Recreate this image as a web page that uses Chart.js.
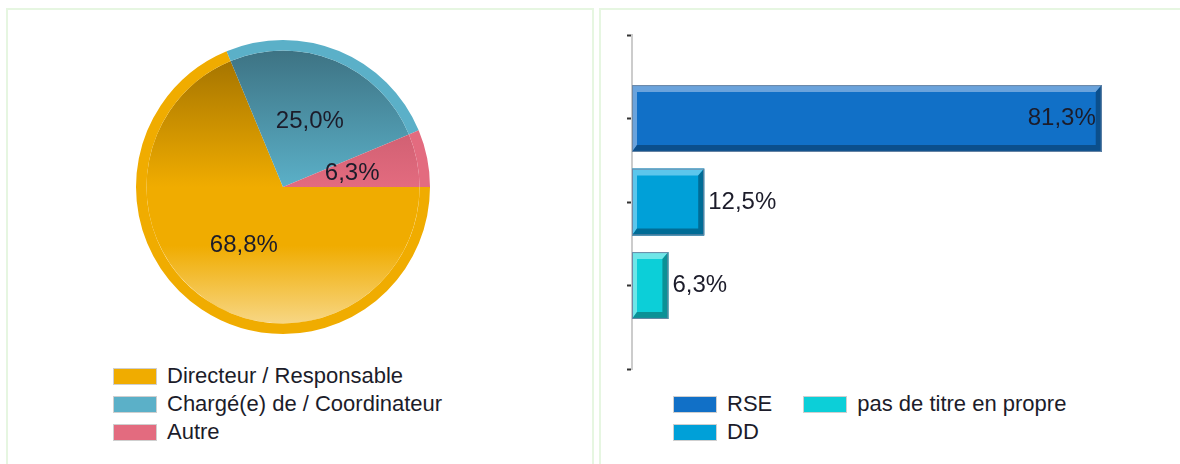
<!DOCTYPE html>
<html>
<head>
<meta charset="utf-8">
<script src="https://cdn.jsdelivr.net/npm/chart.js@4.4.0/dist/chart.umd.min.js"></script>
<style>
  body { margin: 0; width: 1180px; height: 464px; overflow: hidden; position: relative; background: #fff;
         font-family: "Liberation Sans", Arial, sans-serif; color: #1c1c2a; }
  .panel { position: absolute; top: 8px; height: 480px; border: 2px solid #e6f6e1; border-bottom: none; }
  #panelLeft { left: 6px; width: 584px; }
  #panelRight { left: 599px; width: 620px; border-right: none; }
  canvas { position: absolute; }
  #pieCanvasWrap { position: absolute; left: 8px; top: 10px; width: 582px; height: 340px; }
  #barCanvasWrap { position: absolute; left: 598px; top: 10px; width: 582px; height: 380px; }
  .legend { position: absolute; font-size: 22px; line-height: 28px; }
  .legend .item { display: flex; align-items: center; height: 28px; white-space: nowrap; }
  .legend .box { width: 42px; height: 15px; border: 1px solid #cfcfcf; margin-right: 10px; }
  #pieLegend { left: 113px; top: 362px; }
  #barLegend { left: 673px; top: 390px; display: grid; grid-auto-flow: column;
               grid-template-rows: 28px 28px; column-gap: 31px; }
  #barLegend .item { height: 28px; }
</style>
</head>
<body>
<div class="panel" id="panelLeft"></div>
<div class="panel" id="panelRight"></div>
<div id="pieCanvasWrap"><canvas id="pieChart" width="582" height="340"></canvas></div>
<div id="barCanvasWrap"><canvas id="barChart" width="582" height="380"></canvas></div>
<div class="legend" id="pieLegend"></div>
<div class="legend" id="barLegend"></div>
<script>
// Data
const pieLabels = ["Directeur / Responsable", "Chargé(e) de / Coordinateur", "Autre"];
const pieValues = [68.8, 25.0, 6.3];
const pieColors = ["#f0ac00", "#5bb0c8", "#e36b7f"];
const pieTopColors = ["#9a6c00", "#3b6e7e", "#b24e5e"];
const pieBottomColors = ["#f8dc96", "#a3d6e4", "#f2aab5"];

const barLabels = ["RSE", "DD", "pas de titre en propre"];
const barValues = [81.3, 12.5, 6.3];
const barColors = ["#1170c7", "#00a0d8", "#0ccfd8"];
const barLight = ["#6aa3dc", "#5cc6ec", "#6fe6e8"];
const barDark = ["#0b4f8c", "#006c96", "#0a9196"];

function fmt(v) {
  return v.toFixed(1).replace(".", ",") + "%";
}

Chart.defaults.font.family = '"Liberation Sans", Arial, sans-serif';
Chart.defaults.animation = false;

//Pie labels
const pieLabelPlugin = {
  id: "pieLabels",
  afterDatasetsDraw(chart) {
    const ctx = chart.ctx;
    const outer = chart.getDatasetMeta(0).data;
    ctx.save();
    ctx.font = '24px "Liberation Sans", Arial, sans-serif';
    ctx.fillStyle = "#1c1c2a";
    ctx.textAlign = "center";
    ctx.textBaseline = "middle";
    outer.forEach(function (arc, i) {
      const p = arc.getProps(["x", "y", "startAngle", "endAngle", "outerRadius"], true);
      const mid = (p.startAngle + p.endAngle) / 2;
      const r = p.outerRadius * 0.48;
      ctx.fillText(fmt(pieValues[i]), p.x + Math.cos(mid) * r, p.y + Math.sin(mid) * r);
    });
    ctx.restore();
  },
};

function shadedSlice(context) {
  const chart = context.chart;
  const area = chart.chartArea;
  const i = context.dataIndex;
  if (!area) return pieColors[i];
  const g = chart.ctx.createLinearGradient(0, area.top, 0, area.bottom);
  g.addColorStop(0, pieTopColors[i]);
  g.addColorStop(0.5, pieColors[i]);
  g.addColorStop(0.7, pieColors[i]);
  g.addColorStop(1, pieBottomColors[i]);
  return g;
}

new Chart(document.getElementById("pieChart"), {
  type: "pie",
  data: {
    labels: pieLabels,
    datasets: [
      { data: pieValues, backgroundColor: pieColors, borderWidth: 0, weight: 1 },
      { data: pieValues, backgroundColor: shadedSlice, borderWidth: 0, weight: 13 },
    ],
  },
  options: {
    responsive: false,
    rotation: 90,
    hoverOffset: 0,
    layout: { padding: { left: 128, top: 30, right: 160, bottom: 16 } },
    plugins: { legend: { display: false }, tooltip: { enabled: false } },
  },
  plugins: [pieLabelPlugin],
});

//Bars with bevel
const bevelPlugin = {
  id: "bevel",
  afterDatasetsDraw(chart) {
    const ctx = chart.ctx;
    const meta = chart.getDatasetMeta(0);
    ctx.save();
    meta.data.forEach(function (bar, idx) {
      const i = idx - 1;
      if (i < 0 || i >= barValues.length) return;
      const p = bar.getProps(["x", "y", "base", "height"], true);
      const l = p.base, r = p.x, t = p.y - p.height / 2, b = p.y + p.height / 2;
      const bt = 7, bl = 5, bb = 7, br = 6;
      ctx.fillStyle = barLight[i];
      ctx.beginPath();
      ctx.moveTo(l, t); ctx.lineTo(r, t); ctx.lineTo(r - br, t + bt); ctx.lineTo(l + bl, t + bt);
      ctx.lineTo(l + bl, b - bb); ctx.lineTo(l, b); ctx.closePath();
      ctx.fill();
      ctx.fillStyle = barDark[i];
      ctx.beginPath();
      ctx.moveTo(r, t); ctx.lineTo(r, b); ctx.lineTo(l, b); ctx.lineTo(l + bl, b - bb);
      ctx.lineTo(r - br, b - bb); ctx.lineTo(r - br, t + bt); ctx.closePath();
      ctx.fill();
      ctx.strokeStyle = "#6d88a6";
      ctx.lineWidth = 1;
      ctx.strokeRect(l + 0.5, t + 0.5, r - l - 1, b - t - 1);

      // value label
      ctx.font = '24px "Liberation Sans", Arial, sans-serif';
      ctx.fillStyle = "#1c1c2a";
      ctx.textBaseline = "middle";
      const txt = fmt(barValues[i]);
      const w = ctx.measureText(txt).width;
      if (r - l > w + 20) {
        ctx.textAlign = "right";
        ctx.fillText(txt, r - 6, p.y);
      } else {
        ctx.textAlign = "left";
        ctx.fillText(txt, r + 4, p.y);
      }
    });
    ctx.restore();
  },
};

new Chart(document.getElementById("barChart"), {
  type: "bar",
  data: {
    labels: [""].concat(barLabels, [""]),
    datasets: [
      {
        data: [null].concat(barValues, [null]),
        backgroundColor: [null].concat(barColors, [null]),
        borderWidth: 0,
        categoryPercentage: 1,
        barPercentage: 0.8,
      },
    ],
  },
  options: {
    responsive: false,
    indexAxis: "y",
    layout: { padding: { left: 0, top: 25, right: 28, bottom: 21 } },
    scales: {
      x: { display: false, min: 0, max: 90 },
      y: {
        offset: false,
        border: { color: "#cccccc", width: 2 },
        grid: { offset: false, drawOnChartArea: false, drawTicks: true, tickLength: 5, tickColor: "#333333", tickWidth: 2 },
        ticks: { callback: function () { return ""; } },
        afterFit: function (axis) { axis.width = 34; },
      },
    },
    plugins: { legend: { display: false }, tooltip: { enabled: false } },
  },
  plugins: [bevelPlugin],
});

//Legends
function buildLegend(el, labels, colors) {
  labels.forEach(function (label, i) {
    const item = document.createElement("div");
    item.className = "item";
    const box = document.createElement("span");
    box.className = "box";
    box.style.background = colors[i];
    const text = document.createElement("span");
    text.textContent = label;
    item.appendChild(box);
    item.appendChild(text);
    el.appendChild(item);
  });
}
buildLegend(document.getElementById("pieLegend"), pieLabels, pieColors);
buildLegend(document.getElementById("barLegend"), barLabels, barColors);
</script>
</body>
</html>
